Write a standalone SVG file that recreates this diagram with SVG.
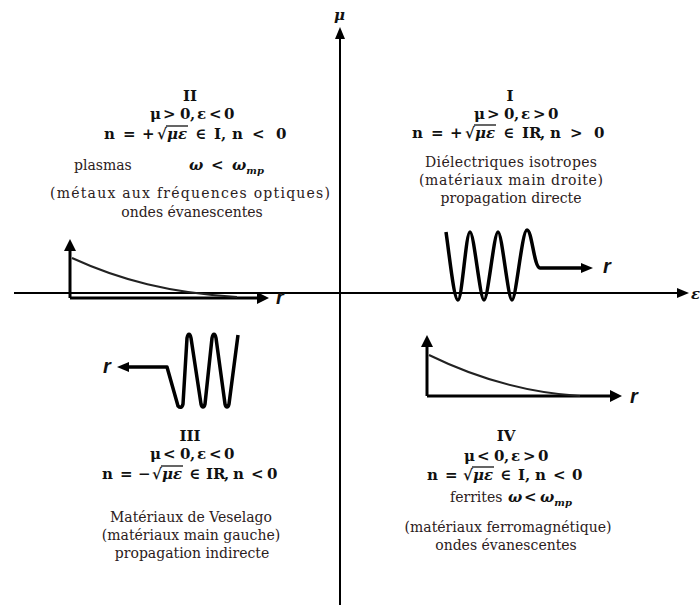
<svg xmlns="http://www.w3.org/2000/svg" width="700" height="605" viewBox="0 0 700 605">
<defs>
<style>
.ax{stroke:#000;stroke-width:2;fill:none}
.gax{stroke:#000;stroke-width:3;fill:none}
.cv{stroke:#222;stroke-width:2;fill:none}
.wv{stroke:#000;stroke-width:3.5;fill:none;stroke-linejoin:round}
.ah{fill:#000}
.m{font-family:"DejaVu Serif",serif;font-weight:bold;font-size:15px;fill:#111}
.rn{font-family:"DejaVu Serif",serif;font-weight:bold;font-size:15px;fill:#111;text-anchor:middle}
.i{font-style:italic}
.t{font-family:"DejaVu Serif",serif;font-size:14px;fill:#2b2020;text-anchor:middle}
.tl{font-family:"DejaVu Serif",serif;font-size:14px;fill:#2b2020}
.sb{font-size:10px}
.r{font-family:"Liberation Sans",Arial,sans-serif;font-weight:bold;font-style:italic;font-size:20px;fill:#111}
.ov{stroke:#111;stroke-width:1.3}
</style>
</defs>

<g id="connectors">
  <line class="ax" x1="340" y1="605" x2="340" y2="36"/>
  <polygon class="ah" points="340,27 335,39 345,39"/>
  <line class="ax" x1="14" y1="293" x2="680" y2="293"/>
  <polygon class="ah" points="689,293 677,288 677,298"/>
</g>

<g id="axis-labels">
  <text class="m i" x="334" y="20" font-size="16">μ</text>
  <text class="m i" x="691" y="299" font-size="16">ε</text>
</g>

<g id="quadrant-I">
  <text class="rn" x="510" y="101">I</text>
  <text class="m" x="474 487 504 514 521 533 548" y="119">μ&gt;0,ε&gt;0</text>
  <text class="m" x="412 431 450 465 475 486 503 522 529 540 550 570 594" y="138">n=+√<tspan class="i">με</tspan>∈IR,n&gt;0</text>
  <line class="ov" x1="474" y1="125" x2="496" y2="125"/>
  <text class="t" x="511" y="167" textLength="172" lengthAdjust="spacing">Diélectriques isotropes</text>
  <text class="t" x="511" y="185" textLength="184" lengthAdjust="spacing">(matériaux main droite)</text>
  <text class="t" x="511" y="203">propagation directe</text>
  <path class="wv" d="M446,232 C450,260 454,300 458,300 C462,300 466,232 470,232 C474,232 480,300 484,300 C488,300 494,232 498,232 C502,232 508,300 512,300 C516,300 522,230 527,230 C532,230 534,268 540,268 L584,268"/>
  <polygon class="ah" points="593,268 581,263 581,273"/>
  <text class="r" x="603" y="273">r</text>
</g>

<g id="quadrant-II">
  <text class="rn" x="190" y="101">II</text>
  <text class="m" x="150 163 180 190 197 209 224" y="119">μ&gt;0,ε&lt;0</text>
  <text class="m" x="104 123 142 157 167 178 195 214 221 232 252 276" y="139">n=+√<tspan class="i">με</tspan>∈I,n&lt;0</text>
  <line class="ov" x1="166" y1="126" x2="188" y2="126"/>
  <text class="tl" x="74" y="170">plasmas</text>
  <text class="m i" x="189" y="170" font-size="16">ω</text>
  <text class="m" x="211" y="170">&lt;</text>
  <text class="m i" x="232" y="170" font-size="16">ω<tspan class="sb" dy="4">mp</tspan></text>
  <text class="t" x="190" y="198" textLength="280" lengthAdjust="spacing">(métaux aux fréquences optiques)</text>
  <text class="t" x="192" y="217">ondes évanescentes</text>
  <line class="gax" x1="70" y1="298" x2="70" y2="248"/>
  <polygon class="ah" points="70,239 64,251 76,251"/>
  <line class="gax" x1="70" y1="298" x2="259" y2="298"/>
  <polygon class="ah" points="269,298 257,292 257,304"/>
  <path class="cv" d="M72,258 C120,280 170,293 237,297"/>
  <text class="r" x="276" y="304">r</text>
</g>

<g id="quadrant-III">
  <text class="rn" x="190" y="441">III</text>
  <text class="m" x="150 163 180 190 197 209 224" y="459">μ&lt;0,ε&lt;0</text>
  <text class="m" x="102 120 138 152 162 173 189 206 213 224 233 251 267" y="479">n=−√<tspan class="i">με</tspan>∈IR,n&lt;0</text>
  <line class="ov" x1="161" y1="466" x2="183" y2="466"/>
  <text class="t" x="191" y="522">Matériaux de Veselago</text>
  <text class="t" x="191" y="540">(matériaux main gauche)</text>
  <text class="t" x="192" y="558">propagation indirecte</text>
  <path class="wv" d="M127,367 L167,367 L178,406 C180,408 182,408 183,404 L187,338 C188,333 190,333 191,338 L201,404 C202,408 204,408 205,404 L212,338 C213,333 215,333 216,338 L225,404 C226,408 228,408 229,404 L238,335"/>
  <polygon class="ah" points="117,367 129,362 129,372"/>
  <text class="r" x="103" y="373">r</text>
</g>

<g id="quadrant-IV">
  <text class="rn" x="506" y="441">IV</text>
  <text class="m" x="464 477 494 504 511 523 538" y="461">μ&lt;0,ε&gt;0</text>
  <text class="m" x="427 445 463 473 484 500 518 525 535 553 572" y="480">n=√<tspan class="i">με</tspan>∈I,n&lt;0</text>
  <line class="ov" x1="472" y1="467" x2="494" y2="467"/>
  <text class="tl" x="450" y="502">ferrites</text>
  <text class="m i" x="508" y="502" font-size="16">ω</text>
  <text class="m" x="524" y="502">&lt;</text>
  <text class="m i" x="540" y="502" font-size="16">ω<tspan class="sb" dy="4">mp</tspan></text>
  <text class="t" x="508" y="532">(matériaux ferromagnétique)</text>
  <text class="t" x="506" y="550">ondes évanescentes</text>
  <line class="gax" x1="427" y1="396" x2="427" y2="344"/>
  <polygon class="ah" points="427,335 421,347 433,347"/>
  <line class="gax" x1="427" y1="396" x2="612" y2="396"/>
  <polygon class="ah" points="622,396 610,390 610,402"/>
  <path class="cv" d="M429,355 C480,380 530,393 580,396"/>
  <text class="r" x="630" y="403">r</text>
</g>
</svg>
